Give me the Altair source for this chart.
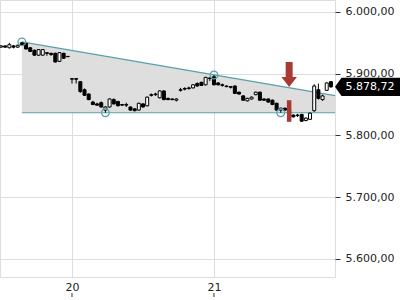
import altair as alt
import pandas as pd

# ---- data ----
day_labels = ["20", "21"]
day_first_index = [0, 34]          # candle index of the first candle of each labelled day
first_index = -17                   # first visible candle (day 19)

opens = [5943, 5945, 5942, 5945, 5943, 5950, 5949, 5942, 5938, 5930, 5930, 5934, 5933, 5933, 5920, 5933, 5928,
         5891, 5892, 5887, 5874, 5867, 5854, 5851, 5853, 5841, 5846, 5858, 5855, 5850, 5850, 5846, 5843, 5841,
         5851, 5848, 5866, 5866, 5861, 5872, 5860, 5859, 5857, 5873, 5876, 5876, 5877, 5884, 5886, 5882, 5893,
         5895, 5885, 5882, 5880, 5879, 5880, 5870, 5864, 5856, 5859, 5866, 5870, 5859, 5859, 5857, 5852, 5841,
         5844, 5842, 5833, 5833, 5834, 5824, 5826, 5840, 5874, 5858, 5873, 5887]
highs = [5946, 5946, 5950, 5946, 5947, 5951.5, 5950, 5943, 5939, 5940, 5940, 5934, 5934, 5934, 5935, 5934, 5928.5,
         5893, 5893, 5888, 5876, 5868, 5856, 5853, 5855, 5847, 5860, 5860, 5856, 5851, 5853, 5847, 5844, 5853,
         5852, 5863, 5868, 5869, 5873, 5873, 5861, 5860, 5860, 5877, 5878, 5879, 5883, 5886, 5887, 5895, 5894,
         5897.8, 5886, 5884, 5881, 5880, 5881, 5871, 5865, 5861, 5863, 5871, 5871, 5860, 5860, 5858, 5853, 5845,
         5845, 5843, 5834, 5835, 5835, 5829, 5837, 5883, 5884, 5866, 5886, 5888]
lows = [5942, 5942, 5941, 5941, 5942, 5946, 5939, 5935, 5929, 5929, 5929, 5929, 5929, 5918, 5919, 5924, 5927,
        5884, 5884, 5869, 5864, 5857, 5849, 5848, 5845, 5836.7, 5845, 5850, 5847, 5848, 5846, 5840, 5839, 5840,
        5845, 5847, 5863, 5864, 5860, 5857, 5857, 5857, 5855, 5871, 5873, 5874, 5876, 5879, 5880, 5881, 5888,
        5881, 5881, 5879, 5878, 5876, 5867, 5866, 5856, 5855, 5858, 5865, 5856, 5856, 5853, 5849, 5840, 5836.7,
        5840, 5832, 5829, 5830, 5822, 5823, 5825, 5838, 5858, 5856, 5872, 5877]
closes = [5945, 5943, 5947, 5943, 5946, 5947, 5940, 5936, 5930, 5939, 5939, 5933, 5931, 5919, 5934, 5925, 5927.5,
          5892, 5891, 5871, 5865, 5858, 5850, 5849, 5846, 5846, 5859, 5851, 5848, 5849, 5849, 5841, 5840, 5852,
          5846, 5862, 5865, 5867, 5872, 5858, 5858, 5858, 5859, 5874, 5875, 5877, 5882, 5880, 5881, 5894, 5892,
          5882, 5882, 5881, 5879, 5878, 5868, 5867, 5857, 5860, 5862, 5870, 5857, 5857, 5854, 5850, 5841, 5844,
          5841, 5833, 5830, 5832, 5823, 5828, 5836, 5880, 5860, 5864, 5885, 5878.72]

# triangle pattern (start / end of the pattern zone)
pattern_x = [-12, 63]
pattern_top = [5951.5, 5864.5]
pattern_bottom = [5836.7, 5836.7]
pivot_x = [-12, 8, 34, 50]
pivot_y = [5951.5, 5836.7, 5897.8, 5836.7]

# signal
signal_x = 52
signal_low, signal_high = 5822, 5857
arrow_y = 5898.6

last_price = 5878.72
last_label = "5.878,72"

y_ticks = [5600, 5700, 5800, 5900, 6000]

# ---- build tables ----
n = len(closes)
df = pd.DataFrame({
    "i": list(range(first_index, first_index + n)),
    "open": opens, "high": highs, "low": lows, "close": closes,
})
pat = pd.DataFrame({"i": pattern_x, "top": pattern_top, "bottom": pattern_bottom})
piv = pd.DataFrame({"i": pivot_x, "v": pivot_y})
sig = pd.DataFrame({"i": [signal_x], "lo": [signal_low], "hi": [signal_high], "arrow": [arrow_y]})
last = pd.DataFrame({"v": [last_price], "t": [last_label]})
days = pd.DataFrame({"i": day_first_index, "lab": day_labels})

TEAL = "#5aa0aa"
RED = "#a83a32"

label_map = " : ".join([f"datum.value == {v} ? '{l}'" for v, l in zip(day_first_index, day_labels)]) + " : ''"

xs = alt.Scale(domain=[-17.24, 62.98], nice=False, zero=False, padding=0)
ys = alt.Scale(domain=[5570.5, 6019.4], nice=False, zero=False, padding=0)
xaxis = alt.Axis(values=day_first_index, labelExpr=label_map, grid=True, gridColor="#dddddd",
                 ticks=False, domain=False, labelPadding=4, labelFontSize=11, labelColor="#222222",
                 labelFont="DejaVu Sans", title=None, labelFlush=False)
yaxis = alt.Axis(orient="right", values=y_ticks,
                 labelExpr="replace(replace(replace(format(datum.value, ',.2f'), ',', '#'), '.', ','), '#', '.')",
                 grid=True, gridColor="#dddddd", tickColor="#333333", tickSize=5, labelPadding=5,
                 domain=False, labelFontSize=11, labelColor="#222222", labelFont="DejaVu Sans", title=None)


def X(field="i"):
    return alt.X(f"{field}:Q", scale=xs, axis=xaxis)


def Y(field):
    return alt.Y(f"{field}:Q", scale=ys, axis=yaxis)


area = alt.Chart(pat).mark_area(color="#dedede", opacity=1).encode(x=X(), y=Y("top"), y2="bottom:Q")
top_line = alt.Chart(pat).mark_line(color=TEAL, strokeWidth=1.2).encode(x=X(), y=Y("top"))
bot_line = alt.Chart(pat).mark_line(color=TEAL, strokeWidth=1.2).encode(x=X(), y=Y("bottom"))

wicks = alt.Chart(df).mark_rule(color="black", strokeWidth=1, clip=True).encode(
    x=X(), y=Y("low"), y2="high:Q")
bodies = alt.Chart(df).mark_bar(size=3, stroke="black", strokeWidth=1, clip=True).encode(
    x=X(), y=Y("open"), y2="close:Q",
    fill=alt.condition("datum.close < datum.open", alt.value("black"), alt.value("white")))

circles = alt.Chart(piv).mark_point(shape="circle", filled=False, size=60, stroke=TEAL,
                                    strokeWidth=1.2, opacity=1).encode(x=X(), y=Y("v"))

sig_bar = alt.Chart(sig).mark_bar(size=4.5, color=RED).encode(x=X(), y=Y("lo"), y2="hi:Q")
arrow = alt.Chart(sig).mark_point(
    shape="M-0.28,-1 L0.28,-1 L0.28,0.2 L0.62,0.2 L0,1 L-0.62,0.2 L-0.28,0.2 Z",
    size=625, filled=True, color=RED, opacity=1, strokeWidth=0).encode(x=X(), y=Y("arrow"))

price_box = alt.Chart(last).mark_point(
    shape="M-1,0 L-0.8,-0.28 L1,-0.28 L1,0.28 L-0.8,0.28 Z",
    size=4225, filled=True, color="black", opacity=1, strokeWidth=0).encode(
    x=alt.value(367.5), y=Y("v"))
price_text = alt.Chart(last).mark_text(color="white", fontSize=11, font="DejaVu Sans",
                                       align="center", baseline="middle").encode(
    x=alt.value(370), y=Y("v"), text="t:N")

xticks = alt.Chart(days).mark_rule(color="#333333", strokeWidth=1).encode(
    x=X(), y=alt.value(293), y2=alt.value(297))

chart = alt.layer(area, top_line, bot_line, wicks, bodies, circles, sig_bar, arrow,
                  price_box, price_text, xticks).properties(
    width=335, height=277, padding=0
).configure_view(strokeWidth=0).configure(background="white")

chart.save("out.html", embed_options={"renderer": "svg", "actions": False})
